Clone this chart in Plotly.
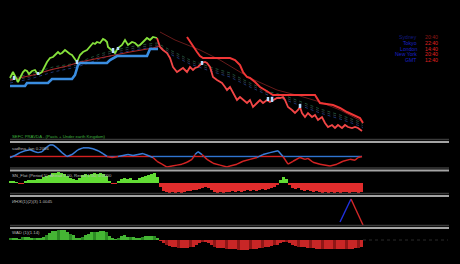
import plotly.graph_objects as go

# ---------------- data (bar index along x) ----------------
# main panel: price while bullish (green) and bearish (red)
up_x = [0,2,3,5,8,10,13,15,17,19,22,25,27,29,32,34,37,40,43,45,48,50,52,55,58,60,62,65,67,70,
        73,77,80,83,85,87,90,93,95,97,98,102,105,108,112,115,118,122,125,128,130,133,137,140,143,147]
up_y = [122,126,128,124,118,122,128,130,129,126,129,130,127,126,128,132,138,142,143,145,148,146,147,150,147,146,145,140,138,145,
        148,150,153,157,156,158,157,161,160,158,153,150,147,152,155,160,155,158,157,154,155,158,162,160,163,162]
dn_x = [147,150,153,157,160,163,167,170,173,177,180,183,185,188,192,195,197,200,203,207,212,215,217,220,223,227,230,233,237,240,
        243,247,250,253,257,260,263,267,270,273,275,278,282,285,288,290,292,295,298,302,305,308,312,315,318,322,325,328,332,335,
        338,342,345,348,352]
dn_y = [162,153,150,147,142,133,128,130,132,128,133,130,132,133,137,138,137,133,123,120,117,113,110,113,107,100,103,100,97,100,
        93,97,100,97,100,98,100,102,102,103,100,93,90,87,90,93,87,83,87,83,85,80,83,77,73,75,72,75,72,75,
        73,72,73,72,69]
# trailing stops
sup_x = [0,15,17,38,42,62,65,68,70,97,100,107,137,140,148]
sup_y = [114,114,117,117,121,121,125,135,137,137,140,144,144,151,151]
res_x = [177,182,187,190,193,220,225,230,233,237,240,245,250,255,260,263,305,310,323,330,337,343,350,353]
res_y = [163,155,148,144,142,142,140,135,128,123,122,118,113,110,107,105,105,97,95,92,88,85,82,77]
# moving averages / bands
ma_up_x = [0,23,40,57,70,90,103,120,143,150]
ma_up_y = [120,125,130,134,138,142,145,148,152,154]
ma_dn_x = [150,165,190,210,220,240,267,290,310,330,353]
ma_dn_y = [168,160,150,140,134,122,110,104,98,90,78]
band_x = [0,20,43,67,90,110,130,147,160,180,200,220,240,260,273,287,310,330,350,353]
band1_y = [121,126,133,137,146,151,155,157,150,140,133,127,117,108,105,100,91,85,78,76]
band2_y = [119,123,131,135,144,149,153,155,148,138,131,125,115,106,103,98,89,83,76,74]
band3_y = [117,121,128,133,141,147,151,153,146,136,129,123,113,104,101,96,87,81,74,72]
# neutral candles
neu_x = [4,28,67,103,108,192,258,262,290]
neu_lo = [120,125,136,147,150,135,99,98,92]
neu_hi = [124,128,140,152,153,139,103,103,96]

# panel 2 oscillator
osc_x = [0,5,10,15,20,25,28,32,37,40,43,47,52,57,62,68,73,78,83,88,93,97,102,108,113,118,123,128,133,138,
         143,147,152,157,162,167,172,177,182,185,188,192,197,203,210,217,220,227,233,240,247,253,260,268,273,278,
         283,290,295,298,303,310,320,327,333,340,345,348,352]
osc_y = [-0.01,0.01,0.04,0.06,0.07,0.05,0.04,0.05,0.10,0.12,0.12,0.09,0.04,0.00,0.02,0.07,0.09,0.09,0.08,0.06,
         0.03,0.00,-0.01,0.00,0.01,0.02,0.01,0.02,0.03,0.01,-0.01,-0.05,-0.08,-0.11,-0.10,-0.09,-0.08,-0.06,-0.03,0.02,
         0.05,0.02,-0.03,-0.07,-0.09,-0.11,-0.10,-0.08,-0.05,-0.03,-0.01,0.02,0.04,0.06,0.00,-0.08,-0.05,-0.01,-0.03,-0.02,
         -0.06,-0.08,-0.10,-0.08,-0.05,-0.03,-0.04,-0.01,0.00]

# panels 3 and 5 histograms
hist_x = list(range(0, 352, 3))
p3_vals = [2,2,1,-1,-1,2,3,3,3,4,
           4,6,7,8,10,10,11,10,9,7,
           5,4,3,5,8,9,8,9,10,9,
           10,9,7,2,-1,-1,2,4,5,4,
           5,3,3,5,6,7,8,9,10,6,
           -4,-8,-9,-10,-9,-10,-9,-10,-9,-8,
           -8,-7,-7,-6,-5,-4,-5,-7,-9,-10,
           -9,-10,-9,-9,-8,-9,-8,-9,-8,-7,
           -8,-7,-8,-7,-6,-7,-6,-5,-4,-2,
           3,6,4,-2,-5,-6,-5,-7,-8,-7,
           -8,-9,-8,-9,-10,-9,-10,-9,-10,-9,
           -10,-9,-9,-10,-9,-9,-10,-9]
p5_vals = [2,2,2,1,3,3,3,2,2,2,
           2,3,5,7,9,9,10,10,10,8,
           6,5,2,2,3,5,6,8,8,8,
           9,9,8,4,2,1,2,4,5,3,
           3,3,2,2,3,4,4,4,4,2,
           -1,-3,-5,-6,-7,-7,-8,-8,-8,-8,
           -7,-7,-5,-3,-2,-2,-3,-5,-7,-8,
           -8,-8,-9,-9,-9,-9,-10,-10,-10,-10,
           -9,-9,-9,-8,-8,-7,-7,-6,-5,-5,
           -3,-2,-2,-3,-5,-6,-7,-7,-7,-8,
           -8,-8,-9,-9,-9,-9,-9,-9,-9,-9,
           -9,-9,-9,-9,-9,-8,-8,-7]

# panel 4 zigzag
p4_x = [330, 341, 353]
p4_y = [4, 27, 1]

# session table
sess_names = ["Sydney", "Tokyo", "London", "New York", "GMT"]
sess_times = ["20:40", "22:40", "14:40", "20:40", "12:40"]

# labels
title_main = "SEFC PRAVDA - (Pasts + Under earth Kingdom)"
lab_p2 = "sadhna_fan 0.2066"
lab_p3 = "SN_Flat (Period 5), Ahead 5.00, Result 1.00, 0.0000"
lab_p4 = "ИНЖ(1)(2)(3) 1.0045"
lab_p5 = "WAD (1)(1.14)"

# ---------------- figure ----------------
H = 264.0
W = 460.0
def py(p):
    return 1 - p / H

fig = go.Figure()

def line(x, y, color, width, yaxis="y", dash="solid", shape="linear"):
    fig.add_trace(go.Scatter(x=x, y=y, mode="lines", yaxis=yaxis, hoverinfo="skip",
                             line=dict(color=color, width=width, dash=dash, shape=shape)))

# bands
line(band_x, band1_y, "#1f4d33", 1, dash="dot")
line(band_x, band2_y, "#2c353d", 1, dash="dot")
line(band_x, band3_y, "#1c3470", 1, dash="dot")
line(ma_up_x, ma_up_y, "#a82828", 1.1)
line(ma_dn_x, ma_dn_y, "#661a1a", 1)
# trailing stops
line(sup_x, sup_y, "#3a8de0", 2.6)
line(res_x, res_y, "#f03636", 2)
# price
line(up_x, up_y, "#86e23c", 1.8)
line(dn_x, dn_y, "#f24646", 1.8)
# neutral candles
nx, ny = [], []
for x, lo, hi in zip(neu_x, neu_lo, neu_hi):
    nx += [x, x, None]
    ny += [lo, hi, None]
line(nx, ny, "#b4dcff", 2.5)

# oscillator split by sign
bx, by, rx, ry = [], [], [], []
lbx, lby, lrx, lry = [], [], [], []
for i in range(len(osc_x) - 1):
    mid = (osc_y[i] + osc_y[i + 1]) / 2
    if mid >= 0:
        bx += [osc_x[i], osc_x[i + 1], None]; by += [osc_y[i], osc_y[i + 1], None]
        lrx += [osc_x[i], osc_x[i + 1], None]; lry += [0, 0, None]
    else:
        rx += [osc_x[i], osc_x[i + 1], None]; ry += [osc_y[i], osc_y[i + 1], None]
        lbx += [osc_x[i], osc_x[i + 1], None]; lby += [0, 0, None]
line(lrx, lry, "#d42020", 1.4, yaxis="y2")
line(lbx, lby, "#2f74d0", 1.4, yaxis="y2")
line(bx, by, "#3a7fdc", 1.5, yaxis="y2")
line(rx, ry, "#d42424", 1.5, yaxis="y2")

# histograms
c3 = ["#62dc34" if v >= 0 else "#e02c2c" for v in p3_vals]
fig.add_trace(go.Bar(x=hist_x, y=p3_vals, width=3, yaxis="y3", marker=dict(color=c3, line=dict(width=0)),
                     hoverinfo="skip"))
c5 = []
for i, v in enumerate(p5_vals):
    dark = (i % 4 == 0)
    if v >= 0:
        c5.append("#2b8a22" if dark else "#45b534")
    else:
        c5.append("#8e1616" if dark else "#c82626")
fig.add_trace(go.Bar(x=hist_x, y=p5_vals, width=3, yaxis="y5", marker=dict(color=c5, line=dict(width=0)),
                     hoverinfo="skip"))

# zigzag
line(p4_x[:2], p4_y[:2], "#2030e0", 1.4, yaxis="y4")
line(p4_x[1:], p4_y[1:], "#d42828", 1.4, yaxis="y4")

shapes = []
for p in [142, 170.5, 196, 228]:
    shapes.append(dict(type="line", xref="paper", yref="paper", x0=10 / W, x1=449 / W, y0=py(p - 2.5), y1=py(p - 2.5),
                       line=dict(color="#3a3a3a", width=1.5)))
    shapes.append(dict(type="line", xref="paper", yref="paper", x0=10 / W, x1=449 / W, y0=py(p), y1=py(p),
                       line=dict(color="#a4a4a4", width=2)))
shapes.append(dict(type="line", xref="paper", yref="paper", x0=363 / W, x1=448 / W, y0=py(240), y1=py(240),
                   line=dict(color="#2a2a2a", width=1, dash="dot")))

ann = []
def text(t, x, y, color, size, anchor="left"):
    ann.append(dict(text=t, x=x / W, y=py(y), xref="paper", yref="paper", showarrow=False,
                    xanchor=anchor, yanchor="middle", font=dict(color=color, size=size, family="Liberation Sans")))

text(title_main, 10, 136, "#3fb43f", 4.3)
text(lab_p2, 10, 148, "#bdbdbd", 4.3)
text(lab_p3, 10, 175.5, "#bdbdbd", 4.3)
text(lab_p4, 10, 201, "#bdbdbd", 4.3)
text(lab_p5, 10, 232, "#bdbdbd", 4.3)
row_y = [37, 42.8, 48.6, 54.4, 60.2]
for i, (n, t) in enumerate(zip(sess_names, sess_times)):
    text(n, 419, row_y[i], "#1a22c8" if i else "#121a80", 5.2, anchor="right")
    text(t, 423, row_y[i], "#e02020" if i else "#901818", 5.2)

fig.update_layout(
    width=460, height=264, margin=dict(l=0, r=0, t=0, b=0),
    paper_bgcolor="#000000", plot_bgcolor="#000000",
    showlegend=False, barmode="overlay", bargap=0,
    xaxis=dict(range=[-10, 450], visible=False, domain=[0, 1]),
    yaxis=dict(domain=[py(138), 1], range=[62, 200], visible=False),
    yaxis2=dict(domain=[py(168), py(144)], range=[-0.12, 0.13], visible=False, anchor="x"),
    yaxis3=dict(domain=[py(195), py(172)], range=[-12, 11], visible=False, anchor="x"),
    yaxis4=dict(domain=[py(226), py(198)], range=[0, 28], visible=False, anchor="x"),
    yaxis5=dict(domain=[0, py(229)], range=[-24, 11], visible=False, anchor="x"),
    shapes=shapes, annotations=ann,
)

fig.write_html("out.html")
